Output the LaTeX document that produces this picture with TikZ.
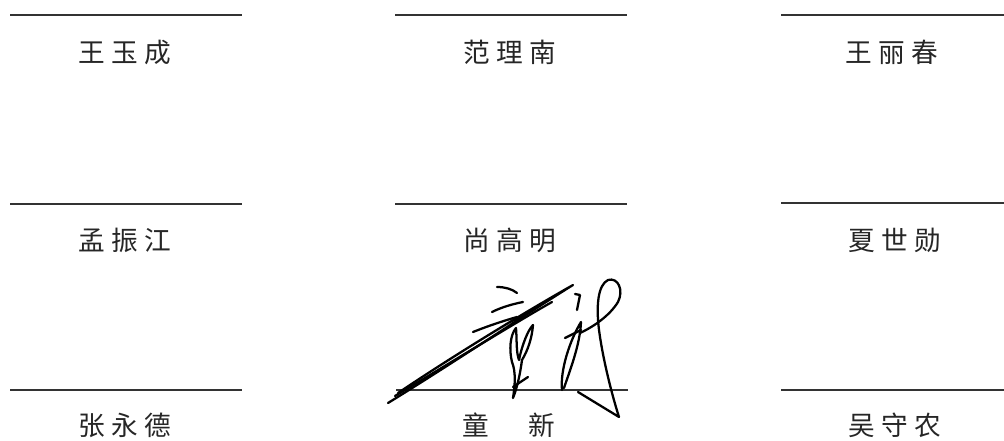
\documentclass[tikz,border=0pt]{standalone}
\usepackage{fontspec}
\newfontfamily\cjk{Noto Sans CJK SC}
\newcommand\cgap{\hspace{4.8pt}}
\begin{document}
\begin{tikzpicture}[x=0.75pt,y=-0.75pt,
  signline/.style={draw=black!80,line width=1.3pt},
  namelbl/.style={font=\cjk\fontsize{20pt}{20pt}\selectfont,text=black!85,inner sep=0pt},
  pen/.style={draw=black,line width=1.7pt,line cap=round,line join=round}]
\useasboundingbox[fill=white] (0,0) rectangle (1004,441);
% line end points
\coordinate (a1) at (10,15);  \coordinate (b1) at (242,15);
\coordinate (a2) at (395,15); \coordinate (b2) at (627,15);
\coordinate (a3) at (781,15); \coordinate (b3) at (1004,15);
\coordinate (c1) at (10,204);  \coordinate (d1) at (242,204);
\coordinate (c2) at (395,204); \coordinate (d2) at (627,204);
\coordinate (c3) at (781,203); \coordinate (d3) at (1004,203);
\coordinate (e1) at (10,390);  \coordinate (f1) at (242,390);
\coordinate (e2) at (396,390); \coordinate (f2) at (628,390);
\coordinate (e3) at (781,390); \coordinate (f3) at (1004,390);
\foreach \p/\q in {a1/b1,a2/b2,a3/b3,c1/d1,c2/d2,c3/d3,e1/f1,e2/f2,e3/f3}
  \draw[signline] (\p) -- (\q);
% names
\node[namelbl] (n11) at (125,52) {王\cgap 玉\cgap 成};
\node[namelbl] (n12) at (510,52) {范\cgap 理\cgap 南};
\node[namelbl] (n13) at (892,52) {王\cgap 丽\cgap 春};
\node[namelbl] (n21) at (125,240) {孟\cgap 振\cgap 江};
\node[namelbl] (n22) at (510,240) {尚\cgap 高\cgap 明};
\node[namelbl] (n23) at (895,240) {夏\cgap 世\cgap 勋};
\node[namelbl] (n31) at (125,425) {张\cgap 永\cgap 德};
\node[namelbl] (n32) at (509,425) {童\cgap\hspace{1em}\cgap 新};
\node[namelbl] (n33) at (895,425) {吴\cgap 守\cgap 农};
% signature
\draw[pen] (388,403) .. controls (450,365) and (520,318) .. (573,285)
           .. controls (520,315) and (450,358) .. (398,393);
\draw[pen] (395,396) .. controls (460,357) and (520,320) .. (552,302);
\draw[pen] (497,287) .. controls (505,287) and (512,289) .. (517,293);
\draw[pen] (492,312) .. controls (502,307) and (513,304) .. (523,302);
\draw[pen] (473,332) .. controls (488,326) and (503,321) .. (517,317);
\draw[pen] (513,398) .. controls (515,385) and (516,372) .. (512,362)
           .. controls (509,350) and (510,335) .. (516,328)
           .. controls (517,340) and (516,352) .. (519,360)
           .. controls (522,345) and (528,330) .. (533,325)
           .. controls (532,338) and (528,350) .. (522,360)
           .. controls (520,375) and (517,388) .. (513,398);
\draw[pen] (513,387) -- (528,377);
\draw[pen] (575,294) -- (580,295) -- (577,310);
\draw[pen] (565,338) -- (581,330);
\draw[pen] (562,390) .. controls (560,370) and (570,340) .. (581,322)
           .. controls (580,345) and (570,370) .. (564,388);
\draw[pen] (578,392) -- (619,417)
           .. controls (612,395) and (603,360) .. (599,330)
           .. controls (596,305) and (598,285) .. (608,280)
           .. controls (618,277) and (624,290) .. (618,302)
           .. controls (610,315) and (595,326) .. (580,333);
\end{tikzpicture}
\end{document}
